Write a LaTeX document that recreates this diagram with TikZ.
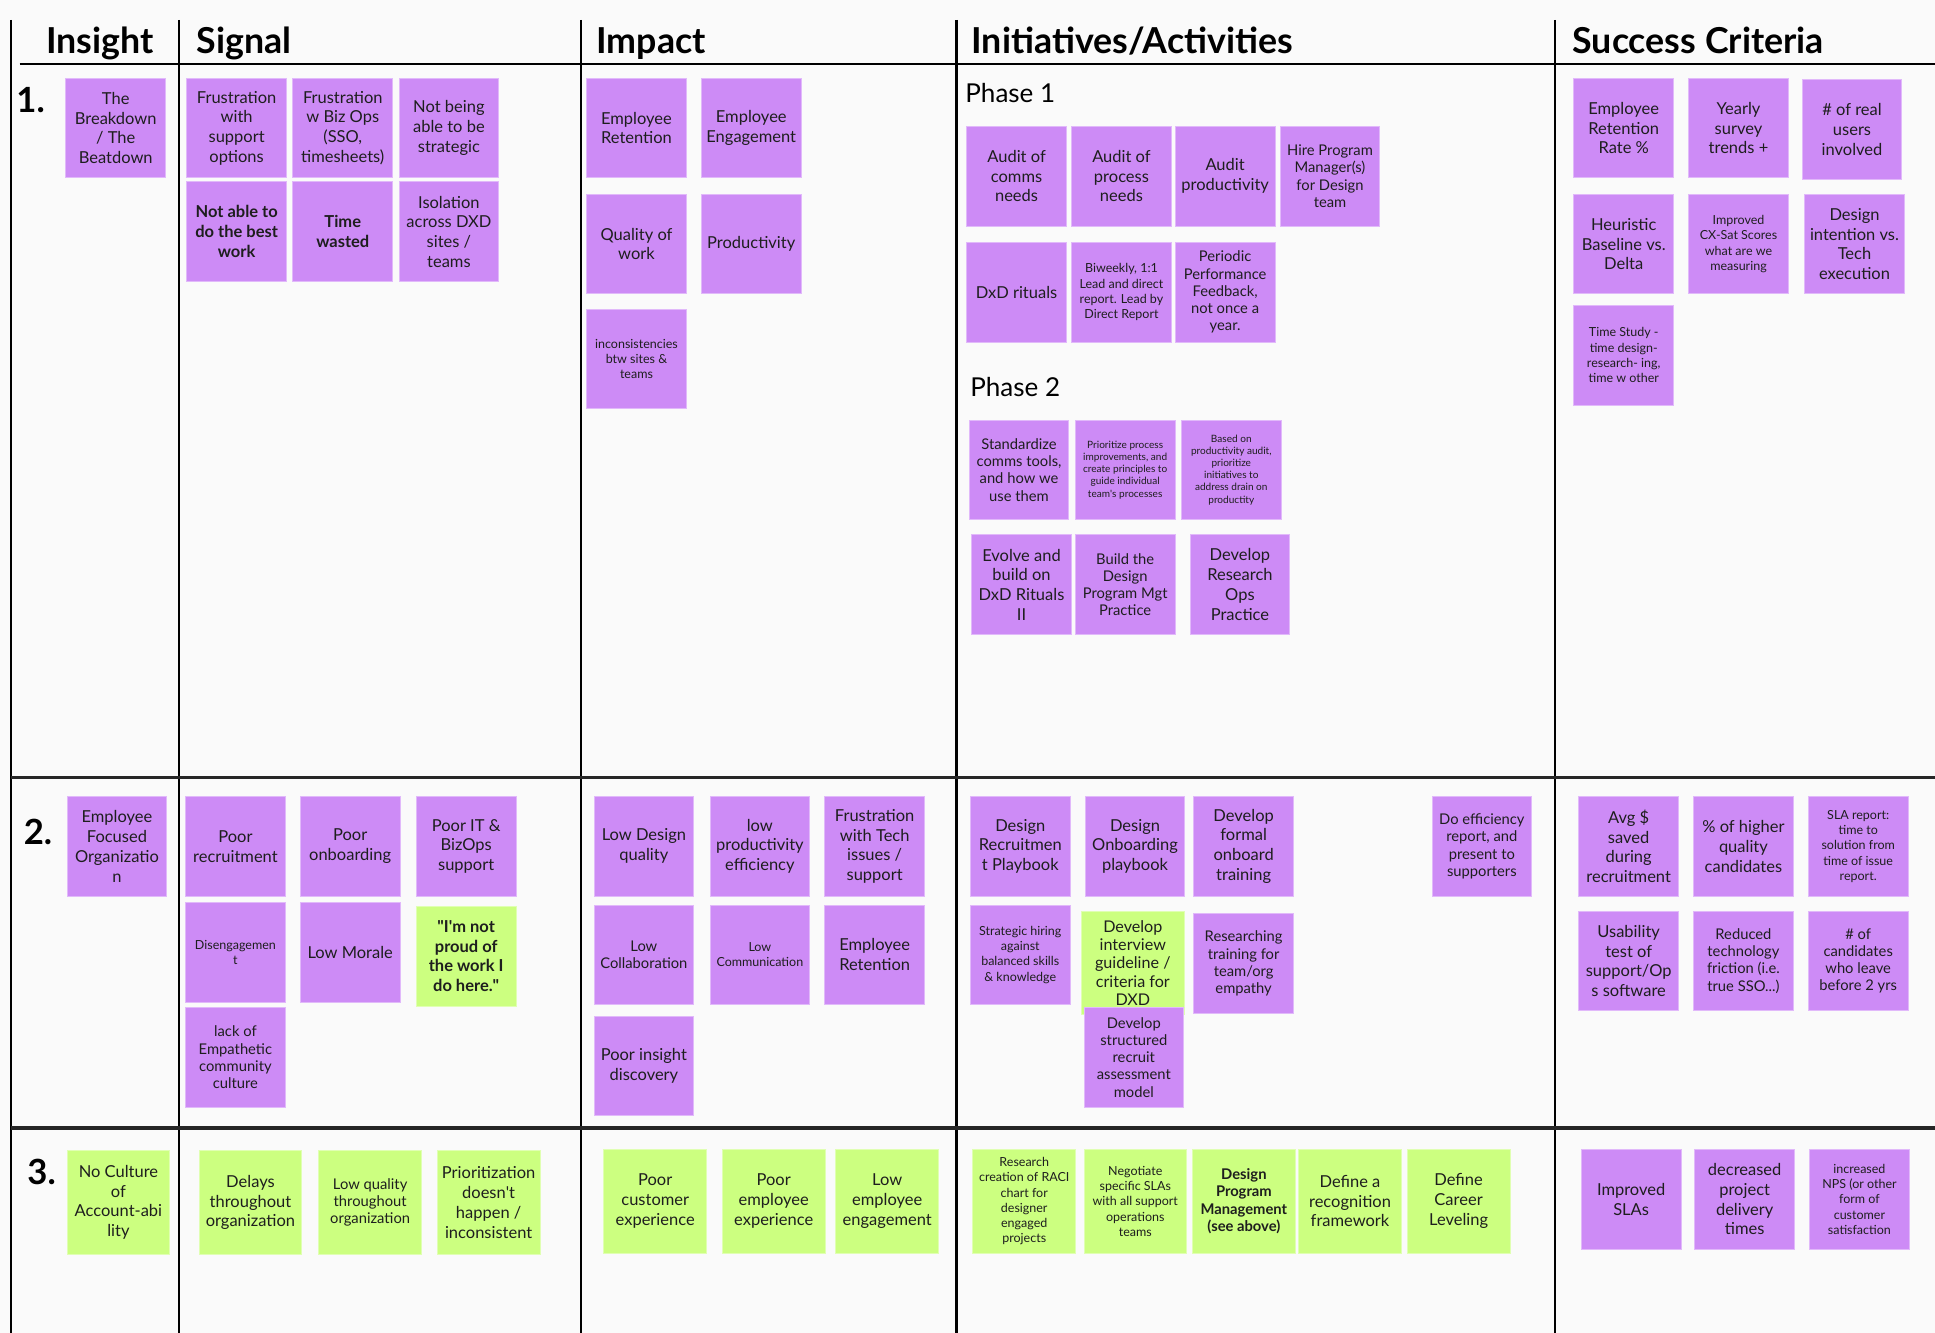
\documentclass[tikz,border=0pt]{standalone}
\usepackage{tikz}
\usepackage{fontspec}
\setmainfont{Lato}

\definecolor{notepurple}{RGB}{205,139,246}
\definecolor{notegreen}{RGB}{204,255,128}
\definecolor{paper}{RGB}{250,250,250}
\definecolor{ink}{RGB}{30,30,30}

\newcommand\nsize{\fontsize{9.5}{11.4}\selectfont}
\newcommand\msize{\fontsize{8.5}{9.9}\selectfont}
\newcommand\ssize{\fontsize{7.2}{8.8}\selectfont}
\newcommand\tsize{\fontsize{5.8}{7}\selectfont}

\begin{document}
\begin{tikzpicture}[x=0.025cm, y=-0.025cm,
  note/.style={anchor=north west, rectangle, fill=notepurple, draw=notepurple!60!white,
    line width=0.5pt, minimum width=2.02cm, minimum height=2.02cm, inner sep=1.5pt,
    align=center, text=ink, font=\nsize},
  greennote/.style={note, fill=notegreen, draw=notegreen!60!white,
    minimum width=2.08cm, minimum height=2.1cm},
  heading/.style={anchor=base west, inner sep=0pt, font=\fontsize{20.6}{24}\selectfont\bfseries},
  rownum/.style={anchor=base west, inner sep=0pt, font=\fontsize{20}{24}\selectfont\bfseries},
  phasetitle/.style={anchor=base west, inner sep=0pt, font=\fontsize{15}{18}\selectfont},
  gridline/.style={line width=1.4pt},
  rowline/.style={line width=1.8pt, black!85}]

  \useasboundingbox (0,0) rectangle (1568,1080);
  \fill[paper] (0,0) rectangle (1568,1080);

  \def\top{16}
  \def\bottom{1080}

  \foreach \x in {9, 145, 471, 775, 1260}
    \draw[gridline] (\x, \top) -- (\x, \bottom);
  \draw[gridline] (16, 52) -- (1568, 52);
  \foreach \y in {630, 914}
    \draw[rowline] (9, \y) -- (1568, \y);

  \node[heading] (hInsight) at (37, 43) {Insight};
  \node[heading] (hSignal)  at (159, 43) {Signal};
  \node[heading] (hImpact)  at (483, 43) {Impact};
  \node[heading] (hInit)    at (787, 43) {Initiatives/Activities};
  \node[heading] (hSuccess) at (1274, 43) {Success Criteria};

  \node[rownum] (numA) at (13, 91) {1.};
  \node[rownum] (numB) at (19, 684) {2.};
  \node[rownum] (numC) at (22, 960) {3.};

  \node[note] (insA) at (53, 63) {The\\Breakdown\\/ The\\Beatdown};
  \node[note] (sigA1) at (151, 63) {Frustration\\with\\support\\options};
  \node[note] (sigA2) at (237, 63) {Frustration\\w Biz Ops\\(SSO,\\timesheets)};
  \node[note] (sigA3) at (323, 63) {Not being\\able to be\\strategic};
  \node[note, font=\nsize\bfseries] (sigA4) at (151, 147) {Not able to\\do the best\\work};
  \node[note, font=\nsize\bfseries] (sigA5) at (237, 147) {Time\\wasted};
  \node[note] (sigA6) at (323, 147) {Isolation\\across DXD\\sites /\\teams};

  \node[note] (impA1) at (475, 63) {Employee\\Retention};
  \node[note] (impA2) at (568, 63) {Employee\\Engagement};
  \node[note] (impA3) at (475, 157) {Quality of\\work};
  \node[note] (impA4) at (568, 157) {Productivity};
  \node[note, font=\ssize] (impA5) at (475, 250) {inconsistencies\\btw sites \&\\teams};

  \node[phasetitle] (phaseA) at (782, 83) {Phase 1};
  \node[note] (iniA1) at (783, 102) {Audit of\\comms\\needs};
  \node[note] (iniA2) at (868, 102) {Audit of\\process\\needs};
  \node[note] (iniA3) at (952, 102) {Audit\\productivity};
  \node[note, font=\msize] (iniA4) at (1037, 102) {Hire Program\\Manager(s)\\for Design\\team};
  \node[note] (iniA5) at (783, 196) {DxD rituals};
  \node[note, font=\ssize] (iniA6) at (868, 196) {Biweekly, 1:1\\Lead and direct\\report. Lead by\\Direct Report};
  \node[note, font=\msize] (iniA7) at (952, 196) {Periodic\\Performance\\Feedback,\\not once a\\year.};

  \node[phasetitle] (phaseB) at (786, 321) {Phase 2};
  \node[note, font=\msize] (iniA8) at (785, 340) {Standardize\\comms tools,\\and how we\\use them};
  \node[note, font=\tsize] (iniA9) at (871, 340) {Prioritize process\\improvements, and\\create principles to\\guide individual\\team\textquotesingle s processes};
  \node[note, font=\tsize] (iniA10) at (957, 340) {Based on\\productivity audit,\\prioritize\\initiatives to\\address drain on\\productity};
  \node[note] (iniA11) at (787, 433) {Evolve and\\build on\\DxD Rituals\\II};
  \node[note, font=\msize] (iniA12) at (871, 433) {Build the\\Design\\Program Mgt\\Practice};
  \node[note] (iniA13) at (964, 433) {Develop\\Research\\Ops\\Practice};

  \node[note] (sucA1) at (1275, 63) {Employee\\Retention\\Rate \%};
  \node[note] (sucA2) at (1368, 63) {Yearly\\survey\\trends +};
  \node[note] (sucA3) at (1460, 64) {\# of real\\users\\involved};
  \node[note] (sucA4) at (1275, 157) {Heuristic\\Baseline vs.\\Delta};
  \node[note, font=\ssize] (sucA5) at (1368, 157) {Improved\\CX-Sat Scores\\what are we\\measuring};
  \node[note] (sucA6) at (1462, 157) {Design\\intention vs.\\Tech\\execution};
  \node[note, font=\ssize] (sucA7) at (1275, 247) {Time Study -\\time design-\\research- ing,\\time w other};

  \node[note] (insB) at (54, 645) {Employee\\Focused\\Organizatio\\n};
  \node[note] (sigB1) at (150, 645) {Poor\\recruitment};
  \node[note] (sigB2) at (243, 645) {Poor\\onboarding};
  \node[note] (sigB3) at (337, 645) {Poor IT \&\\BizOps\\support};
  \node[note, font=\ssize] (sigB4) at (150, 731) {Disengagemen\\t};
  \node[note] (sigB5) at (243, 731) {Low Morale};
  \node[note, fill=notegreen, draw=notegreen!60!white, font=\nsize\bfseries] (sigB6) at (337, 734) {\textquotedbl I\textquotesingle m not\\proud of\\the work I\\do here.\textquotedbl};
  \node[note, font=\msize] (sigB7) at (150, 816) {lack of\\Empathetic\\community\\culture};

  \node[note] (impB1) at (481, 645) {Low Design\\quality};
  \node[note] (impB2) at (575, 645) {low\\productivity\\efficiency};
  \node[note] (impB3) at (668, 645) {Frustration\\with Tech\\issues /\\support};
  \node[note, font=\msize] (impB4) at (481, 733) {Low\\Collaboration};
  \node[note, font=\ssize] (impB5) at (575, 733) {Low\\Communication};
  \node[note] (impB6) at (668, 733) {Employee\\Retention};
  \node[note] (impB7) at (481, 823) {Poor insight\\discovery};

  \node[note] (iniB1) at (786, 645) {Design\\Recruitmen\\t Playbook};
  \node[note] (iniB2) at (879, 645) {Design\\Onboarding\\playbook};
  \node[note] (iniB3) at (967, 645) {Develop\\formal\\onboard\\training};
  \node[note, font=\msize] (iniB4) at (1160, 645) {Do efficiency\\report, and\\present to\\supporters};
  \node[note, font=\ssize] (iniB5) at (786, 733) {Strategic hiring\\against\\balanced skills\\\& knowledge};
  \node[greennote, font=\fontsize{9.3}{10.6}\selectfont] (iniB6) at (876, 738) {Develop\\interview\\guideline /\\criteria for\\DXD};
  \node[note, font=\msize] (iniB7) at (967, 740) {Researching\\training for\\team/org\\empathy};
  \node[note, font=\msize] (iniB8) at (878, 816) {Develop\\structured\\recruit\\assessment\\model};

  \node[note] (sucB1) at (1279, 645) {Avg \$\\saved\\during\\recruitment};
  \node[note] (sucB2) at (1372, 645) {\% of higher\\quality\\candidates};
  \node[note, font=\ssize] (sucB3) at (1465, 645) {SLA report:\\time to\\solution from\\time of issue\\report.};
  \node[note] (sucB4) at (1279, 738) {Usability\\test of\\support/Op\\s software};
  \node[note, font=\msize] (sucB5) at (1372, 738) {Reduced\\technology\\friction (i.e.\\true SSO...)};
  \node[note, font=\msize] (sucB6) at (1465, 738) {\# of\\candidates\\who leave\\before 2 yrs};

  \node[greennote] (insC) at (54, 932) {No Culture\\of\\Account-abi\\lity};
  \node[greennote] (sigC1) at (161, 932) {Delays\\throughout\\organization};
  \node[greennote, font=\msize] (sigC2) at (258, 932) {Low quality\\throughout\\organization};
  \node[greennote] (sigC3) at (354, 932) {Prioritization\\doesn\textquotesingle t\\happen /\\inconsistent};

  \node[greennote] (impC1) at (489, 931) {Poor\\customer\\experience};
  \node[greennote] (impC2) at (585, 931) {Poor\\employee\\experience};
  \node[greennote] (impC3) at (677, 931) {Low\\employee\\engagement};

  \node[greennote, font=\ssize] (iniC1) at (788, 931) {Research\\creation of RACI\\chart for\\designer\\engaged\\projects};
  \node[greennote, font=\ssize] (iniC2) at (878, 931) {Negotiate\\specific SLAs\\with all support\\operations\\teams};
  \node[greennote, font=\msize\bfseries] (iniC3) at (966, 931) {Design\\Program\\Management\\(see above)};
  \node[greennote] (iniC4) at (1052, 931) {Define a\\recognition\\framework};
  \node[greennote] (iniC5) at (1140, 931) {Define\\Career\\Leveling};

  \node[note] (sucC1) at (1281, 931) {Improved\\SLAs};
  \node[note] (sucC2) at (1373, 931) {decreased\\project\\delivery\\times};
  \node[note, font=\ssize] (sucC3) at (1466, 931) {increased\\NPS (or other\\form of\\customer\\satisfaction};

\end{tikzpicture}
\end{document}
